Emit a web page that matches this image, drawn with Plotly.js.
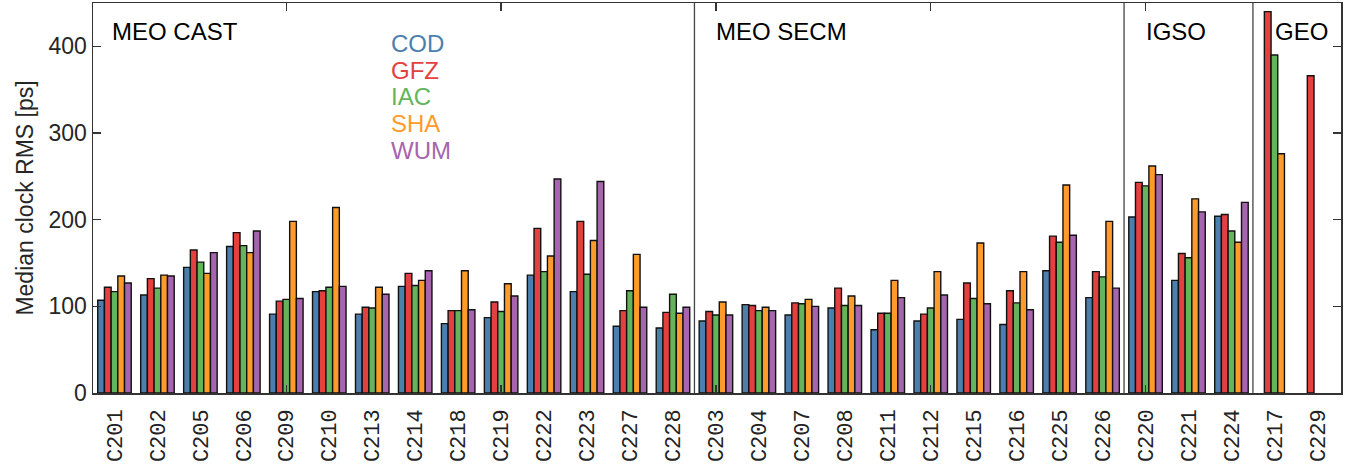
<!DOCTYPE html>
<html>
<head>
<meta charset="utf-8">
<script src="https://cdn.plot.ly/plotly-3.0.1.min.js"></script>
<style>html,body{margin:0;padding:0;background:#fff;}#chart{width:1357px;height:470px;}</style>
</head>
<body>
<div id="chart"></div>
<script>
const satellites = ["C201","C202","C205","C206","C209","C210","C213","C214","C218","C219","C222","C223","C227","C228",
  "C203","C204","C207","C208","C211","C212","C215","C216","C225","C226",
  "C220","C221","C224",
  "C217","C229"];
const centers = ["COD","GFZ","IAC","SHA","WUM"];
const colors = ["#4D7FAE","#E4403F","#64B45C","#FF9B2B","#A665AE"];

const COD = [107,113,145,169,91,117,91,123,80,87,136,117,77,75,
  83,102,90,98,73,83,85,79,141,110,
  203,130,204,
  null,null];
const GFZ = [122,132,165,185,106,118,99,138,95,105,190,198,95,93,
  94,101,104,121,92,91,127,118,181,140,
  243,161,206,
  440,366];
const IAC = [117,121,151,170,108,122,98,124,95,94,140,137,118,114,
  90,95,103,101,92,98,109,104,174,134,
  239,156,187,
  390,null];
const SHA = [135,136,138,162,198,214,122,130,141,126,158,176,160,92,
  105,99,108,112,130,140,173,140,240,198,
  262,224,174,
  276,null];
const WUM = [127,135,162,187,109,123,114,141,96,112,247,244,99,99,
  90,95,100,101,110,113,103,96,182,121,
  252,209,220,
  null,null];

const groups = [
  {name:"MEO CAST", first:0, last:13},
  {name:"MEO SECM", first:14, last:23},
  {name:"IGSO", first:24, last:26},
  {name:"GEO", first:27, last:28}
];
const topTicks = [4,9,14,19,24];
const yTicks = [0,100,200,300,400];

const series = [COD,GFZ,IAC,SHA,WUM];
const idx = satellites.map((s,i)=>i);
const traces = series.map((vals,k)=>({
  type:'bar', x: idx, y: vals, name: centers[k],
  marker:{color: colors[k], line:{color:'#111', width:1.4}},
  showlegend:false, hoverinfo:'x+y'
}));

const axisColor = '#333';
const sans = 'Liberation Sans, Arial, sans-serif';
const shapes = groups.slice(1).map(g=>({
  type:'line', xref:'x', yref:'paper', x0:g.first-0.5, x1:g.first-0.5, y0:0, y1:1,
  line:{color:'#444', width:1.3}
}));
const annotations = groups.map((g,i)=>({
  xref:'x', yref:'paper', x: g.first-0.5, y:0.928, xanchor:'left', yanchor:'middle',
  xshift: i===0?17:20, text: g.name, showarrow:false,
  font:{family:sans, size:24, color:'#000'}
}));
centers.forEach((c,k)=>{
  annotations.push({xref:'paper', yref:'paper', x:0.2375, y:0.895 - k*0.068, xanchor:'left', yanchor:'middle',
    text:c, showarrow:false, font:{family:sans, size:24, color:colors[k]}});
});

const layout = {
  width:1357, height:470,
  margin:{l:93, r:16, t:3, b:77},
  paper_bgcolor:'#fff', plot_bgcolor:'#fff',
  barmode:'group', bargap:0.22, bargroupgap:0,
  xaxis:{
    range:[-0.5,28.55], tickmode:'array', tickvals: idx, ticktext: satellites,
    tickangle:-90, ticks:'', showgrid:false, zeroline:false,
    showline:true, linecolor:axisColor, linewidth:1.5, mirror:'ticks',
    ticklabelstandoff:6,
    minor:{tickmode:'array', tickvals: topTicks, ticks:'inside', ticklen:8, tickwidth:1.3, tickcolor:axisColor, showgrid:false},
    tickfont:{family:'Liberation Mono, DejaVu Sans Mono, monospace', size:22, color:'#222'}
  },
  yaxis:{
    range:[0,450], tickmode:'array', tickvals: yTicks, ticks:'inside', ticklen:8, tickwidth:1.3, tickcolor:axisColor,
    showgrid:false, zeroline:false, showline:true, linecolor:axisColor, linewidth:1.5, mirror:'ticks',
    tickfont:{family:sans, size:23, color:'#262626'},
    title:{text:'Median clock RMS [ps]', standoff:8, font:{family:sans, size:23, color:'#262626'}}
  },
  shapes: shapes,
  annotations: annotations
};

Plotly.newPlot('chart', traces, layout, {staticPlot:true, displayModeBar:false});
</script>
</body>
</html>
